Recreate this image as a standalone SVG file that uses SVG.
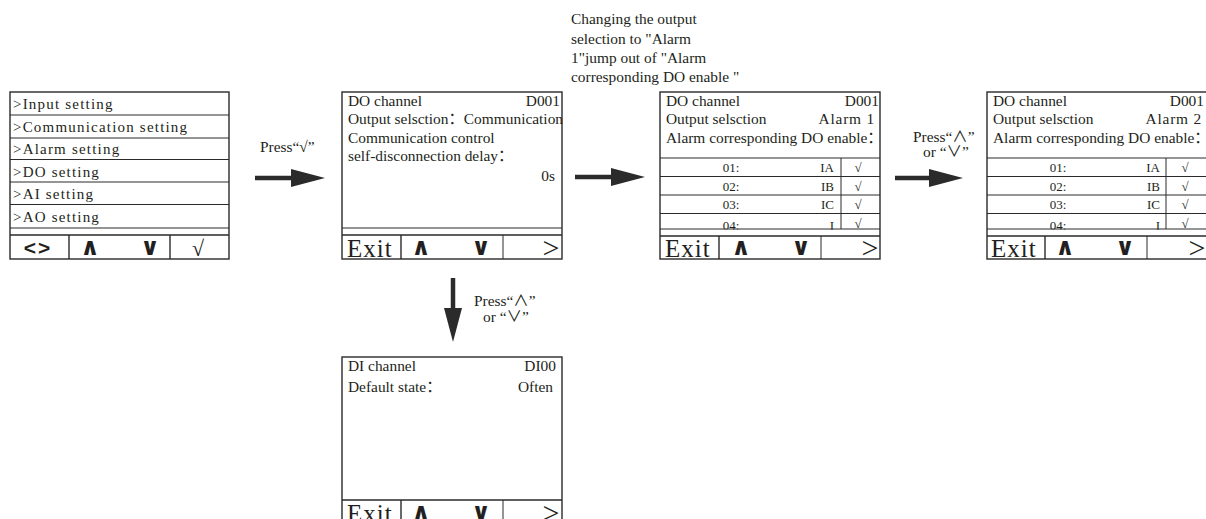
<svg xmlns="http://www.w3.org/2000/svg" width="1206" height="519" viewBox="0 0 1206 519">
<style>
.bg{fill:#fff}
.box{fill:#fff;stroke:#2a2a2a;stroke-width:1.4}
.ln{stroke:#2a2a2a;stroke-width:1}
.lnb{stroke:#2a2a2a;stroke-width:1.4}
.t{font-family:"Liberation Serif","Noto Sans CJK SC",serif;font-size:15.4px;fill:#231f20}
.m{font-family:"Liberation Serif","Noto Sans CJK SC",serif;font-size:15px;fill:#231f20;letter-spacing:1.2px}
.s{font-family:"Liberation Serif","Noto Sans CJK SC",serif;font-size:13px;fill:#231f20}
.exit{font-family:"Liberation Serif",serif;font-size:25px;fill:#231f20;letter-spacing:1px}
.ud{font-family:"DejaVu Sans",sans-serif;font-size:24px;font-weight:bold;fill:#231f20;text-anchor:middle}
.gt{font-family:"Liberation Serif",serif;font-size:30px;fill:#231f20;text-anchor:middle}
.r{text-anchor:end}
.c{text-anchor:middle}
.arr{stroke:#2b2b2b;stroke-width:4.5;fill:none}
</style>
<defs>
<marker id="head" viewBox="0 0 34 18" refX="0" refY="9" markerWidth="34" markerHeight="18" markerUnits="userSpaceOnUse" orient="auto">
<path d="M0,0 L34,9 L0,18 Z" fill="#2b2b2b"/>
</marker>
</defs>
<rect class="bg" x="0" y="0" width="1206" height="519"/>

<g id="menu">
<rect class="box" x="10" y="92" width="219" height="167"/>
<line class="ln" x1="10" y1="115" x2="229" y2="115"/>
<line class="ln" x1="10" y1="138" x2="229" y2="138"/>
<line class="ln" x1="10" y1="159.5" x2="229" y2="159.5"/>
<line class="ln" x1="10" y1="182" x2="229" y2="182"/>
<line class="ln" x1="10" y1="204.5" x2="229" y2="204.5"/>
<line class="ln" x1="10" y1="228" x2="229" y2="228"/>
<line class="lnb" x1="10" y1="235" x2="229" y2="235"/>
<line class="lnb" x1="69" y1="235" x2="69" y2="259"/>
<line class="lnb" x1="170" y1="235" x2="170" y2="259"/>
<text class="m" x="13" y="109">&gt;Input setting</text>
<text class="m" x="13" y="132">&gt;Communication setting</text>
<text class="m" x="13" y="154">&gt;Alarm setting</text>
<text class="m" x="13" y="176.5">&gt;DO setting</text>
<text class="m" x="13" y="199">&gt;AI setting</text>
<text class="m" x="13" y="221.5">&gt;AO setting</text>
<text x="38" y="255" style="font-family:'Liberation Sans',sans-serif;font-size:21px;font-weight:bold;fill:#231f20;letter-spacing:2px" text-anchor="middle">&lt;&gt;</text>
<text class="ud" x="90" y="255">∧</text>
<text class="ud" x="150" y="255">∨</text>
<text x="198" y="256" style="font-family:'Liberation Serif','DejaVu Serif',serif;font-size:22px;fill:#231f20" text-anchor="middle">√</text>
</g>

<g id="do-comm">
<rect class="box" x="342" y="92" width="220" height="167"/>
<line class="ln" x1="342" y1="228" x2="562" y2="228"/>
<line class="lnb" x1="342" y1="235" x2="562" y2="235"/>
<line class="lnb" x1="401" y1="235" x2="401" y2="259"/>
<line class="ln" x1="503" y1="235" x2="503" y2="259"/>
<text class="t" x="348" y="106">DO channel</text>
<text class="t r" x="560" y="106">D001</text>
<text class="t" x="348" y="124">Output selsction：Communication</text>
<text class="t" x="348" y="143">Communication control</text>
<text class="t" x="348" y="161">self-disconnection delay：</text>
<text class="t r" x="555" y="181">0s</text>
<text class="exit" x="347" y="257">Exit</text>
<text class="ud" x="421" y="255">∧</text>
<text class="ud" x="481" y="255">∨</text>
<text class="gt" x="551" y="258">&gt;</text>
</g>

<g id="do-alarm1">
<rect class="box" x="660" y="92" width="220" height="167"/>
<text class="t" x="666" y="106">DO channel</text>
<text class="t r" x="879" y="106">D001</text>
<text class="t" x="666" y="124">Output selsction</text>
<text class="t r" x="875" y="124" style="letter-spacing:0.8px">Alarm 1</text>
<text class="t" x="666" y="143">Alarm corresponding DO enable：</text>
<line class="ln" x1="660" y1="158" x2="880" y2="158"/>
<line class="ln" x1="660" y1="176.5" x2="880" y2="176.5"/>
<line class="ln" x1="660" y1="195" x2="880" y2="195"/>
<line class="ln" x1="660" y1="213.5" x2="880" y2="213.5"/>
<line class="ln" x1="841" y1="158" x2="841" y2="229"/>
<text class="s c" x="731" y="172">01:</text>
<text class="s r" x="834" y="172">IA</text>
<text class="s c" x="858" y="172">√</text>
<text class="s c" x="731" y="190.5">02:</text>
<text class="s r" x="834" y="190.5">IB</text>
<text class="s c" x="858" y="190.5">√</text>
<text class="s c" x="731" y="209">03:</text>
<text class="s r" x="834" y="209">IC</text>
<text class="s c" x="858" y="209">√</text>
<text class="s c" x="731" y="230">04:</text>
<text class="s r" x="834" y="230">I</text>
<text class="s c" x="858" y="227.5">√</text>
<rect x="661" y="229.5" width="218" height="5" fill="#fff"/>
<line class="ln" x1="660" y1="229" x2="880" y2="229"/>
<line class="lnb" x1="660" y1="236" x2="880" y2="236"/>
<line class="lnb" x1="719" y1="236" x2="719" y2="259"/>
<line class="ln" x1="821" y1="236" x2="821" y2="259"/>
<text class="exit" x="665" y="257">Exit</text>
<text class="ud" x="741" y="255">∧</text>
<text class="ud" x="801" y="255">∨</text>
<text class="gt" x="870" y="258">&gt;</text>
</g>

<g id="do-alarm2">
<rect class="box" x="987" y="92" width="220" height="167"/>
<text class="t" x="993" y="106">DO channel</text>
<text class="t r" x="1204" y="106">D001</text>
<text class="t" x="993" y="124">Output selsction</text>
<text class="t r" x="1202" y="124" style="letter-spacing:0.8px">Alarm 2</text>
<text class="t" x="993" y="143">Alarm corresponding DO enable：</text>
<line class="ln" x1="987" y1="158" x2="1207" y2="158"/>
<line class="ln" x1="987" y1="176.5" x2="1207" y2="176.5"/>
<line class="ln" x1="987" y1="195" x2="1207" y2="195"/>
<line class="ln" x1="987" y1="213.5" x2="1207" y2="213.5"/>
<line class="ln" x1="1166" y1="158" x2="1166" y2="229"/>
<text class="s c" x="1058" y="172">01:</text>
<text class="s r" x="1160" y="172">IA</text>
<text class="s c" x="1185" y="172">√</text>
<text class="s c" x="1058" y="190.5">02:</text>
<text class="s r" x="1160" y="190.5">IB</text>
<text class="s c" x="1185" y="190.5">√</text>
<text class="s c" x="1058" y="209">03:</text>
<text class="s r" x="1160" y="209">IC</text>
<text class="s c" x="1185" y="209">√</text>
<text class="s c" x="1058" y="230">04:</text>
<text class="s r" x="1160" y="230">I</text>
<text class="s c" x="1185" y="227.5">√</text>
<rect x="988" y="229.5" width="218" height="5" fill="#fff"/>
<line class="ln" x1="987" y1="229" x2="1207" y2="229"/>
<line class="lnb" x1="987" y1="236" x2="1207" y2="236"/>
<line class="lnb" x1="1045" y1="236" x2="1045" y2="259"/>
<line class="ln" x1="1147" y1="236" x2="1147" y2="259"/>
<text class="exit" x="991" y="257">Exit</text>
<text class="ud" x="1065" y="255">∧</text>
<text class="ud" x="1125" y="255">∨</text>
<text class="gt" x="1197" y="258">&gt;</text>
</g>

<g id="di-channel">
<rect class="box" x="342" y="357" width="220" height="168"/>
<text class="t" x="348" y="371">DI channel</text>
<text class="t r" x="556" y="371">DI00</text>
<text class="t" x="348" y="392">Default state：</text>
<text class="t r" x="553" y="392">Often</text>
<line class="lnb" x1="342" y1="500" x2="562" y2="500"/>
<line class="lnb" x1="401" y1="500" x2="401" y2="525"/>
<line class="ln" x1="503" y1="500" x2="503" y2="525"/>
<text class="exit" x="347" y="522">Exit</text>
<text class="ud" x="421" y="520">∧</text>
<text class="ud" x="481" y="520">∨</text>
<text class="gt" x="551" y="523">&gt;</text>
</g>

<g id="connectors">
<line class="arr" x1="255" y1="178" x2="291" y2="178" marker-end="url(#head)"/>
<line class="arr" x1="575" y1="177" x2="611" y2="177" marker-end="url(#head)"/>
<line class="arr" x1="895" y1="178" x2="929" y2="178" marker-end="url(#head)"/>
<line class="arr" x1="453" y1="278" x2="453" y2="308" marker-end="url(#head)"/>
<text class="t" x="260" y="152">Press“√”</text>
<text class="t" x="571" y="24">Changing the output</text>
<text class="t" x="571" y="43.5">selection to "Alarm</text>
<text class="t" x="571" y="63">1"jump out of "Alarm</text>
<text class="t" x="571" y="82">corresponding DO enable "</text>
<text class="t" x="913" y="142">Press“∧”</text>
<text class="t" x="923" y="157">or  “∨”</text>
<text class="t" x="474" y="306">Press“∧”</text>
<text class="t" x="483" y="322">or  “∨”</text>
</g>
</svg>
